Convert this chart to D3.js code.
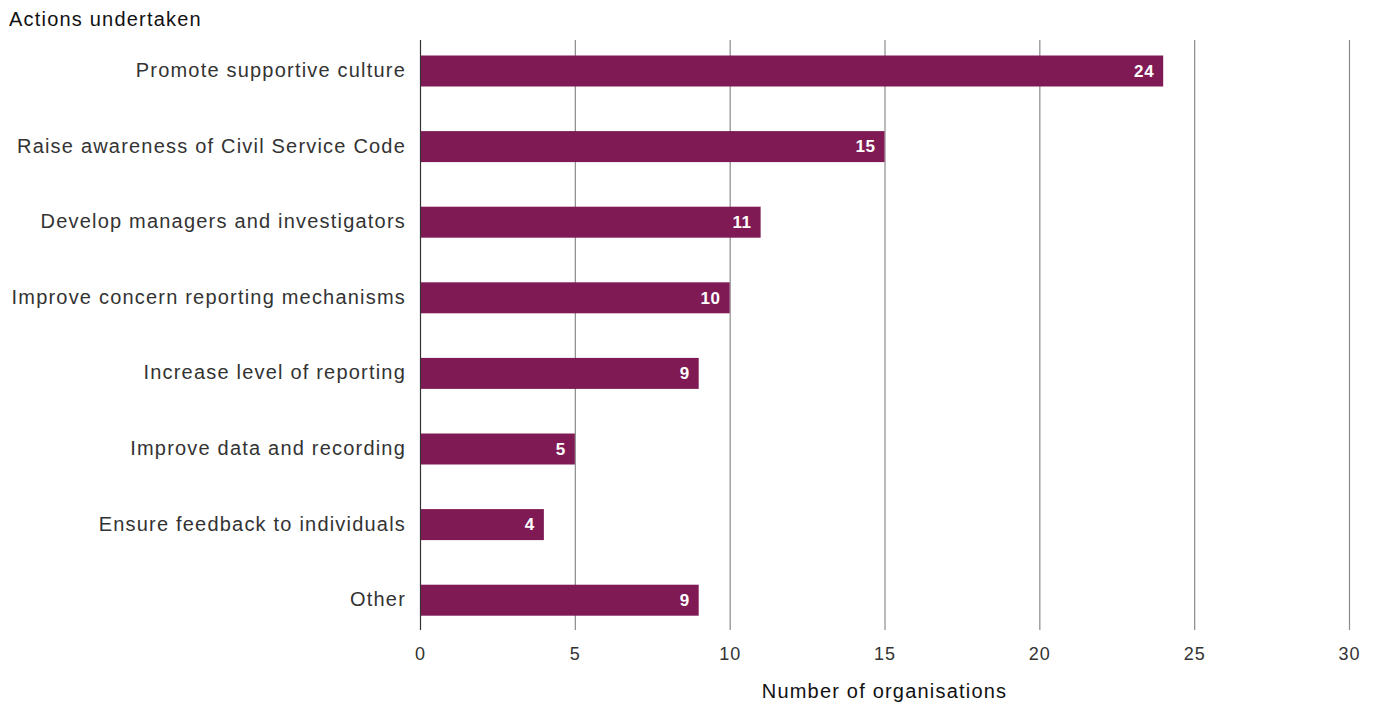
<!DOCTYPE html>
<html>
<head>
<meta charset="utf-8">
<script src="https://cdn.jsdelivr.net/npm/d3@7"></script>
<style>
  html, body { margin: 0; padding: 0; background: #fff; }
  svg { display: block; font-family: "Liberation Sans", "DejaVu Sans", sans-serif; }
</style>
</head>
<body>
<svg id="chart" width="1375" height="704"></svg>
<script>
// Actions undertaken by organisations
const categories = [
  "Promote supportive culture",
  "Raise awareness of Civil Service Code",
  "Develop managers and investigators",
  "Improve concern reporting mechanisms",
  "Increase level of reporting",
  "Improve data and recording",
  "Ensure feedback to individuals",
  "Other"
];
const counts = [24, 15, 11, 10, 9, 5, 4, 9];
const tickValues = [0, 5, 10, 15, 20, 25, 30];

const svg = d3.select("#chart");
const left = 420, right = 1349;
const gridTop = 40, gridBottom = 630;

const x = d3.scaleLinear().domain([0, 30]).range([left, right]);
const y = d3.scaleBand().domain(categories).range([33.2, 638]).paddingInner(0.59).paddingOuter(0.295);

// vertical gridlines
svg.append("g").selectAll("line")
  .data(tickValues)
  .join("line")
  .attr("x1", d => x(d) + 0.5).attr("x2", d => x(d) + 0.5)
  .attr("y1", gridTop).attr("y2", gridBottom)
  .attr("stroke", d => d === 0 ? "#333" : "#8a8a8a")
  .attr("stroke-width", 1.2);

// bars
svg.append("g").selectAll("rect")
  .data(counts)
  .join("rect")
  .attr("x", x(0) + 1)
  .attr("y", (d, i) => y(categories[i]))
  .attr("width", d => x(d) - x(0) - 1)
  .attr("height", y.bandwidth())
  .attr("fill", "#7f1a55");

// value labels inside bars
svg.append("g").selectAll("text")
  .data(counts)
  .join("text")
  .attr("x", d => x(d) - 9)
  .attr("y", (d, i) => y(categories[i]) + y.bandwidth() / 2)
  .attr("dy", "0.34em")
  .attr("text-anchor", "end")
  .attr("fill", "#fff")
  .attr("font-size", 17)
  .attr("font-weight", "bold")
  .attr("letter-spacing", 0.6)
  .text(d => d);

// category labels
svg.append("g").selectAll("text")
  .data(categories)
  .join("text")
  .attr("x", 406)
  .attr("y", d => y(d) + y.bandwidth() / 2)
  .attr("dy", "0.3em")
  .attr("text-anchor", "end")
  .attr("fill", "#333")
  .attr("font-size", 20)
  .attr("letter-spacing", 1.2)
  .text(d => d);

// x axis tick labels
const xAxis = d3.axisBottom(x).tickValues(tickValues).tickSize(0).tickPadding(0);
const gx = svg.append("g").attr("transform", `translate(0, 647)`).call(xAxis);
gx.select(".domain").remove();
gx.selectAll("text")
  .attr("font-size", 18)
  .attr("fill", "#333")
  .attr("letter-spacing", 1)
  .attr("font-family", "Liberation Sans, sans-serif");

// axis title
svg.append("text")
  .attr("x", (left + right) / 2)
  .attr("y", 698)
  .attr("text-anchor", "middle")
  .attr("font-size", 20)
  .attr("letter-spacing", 1.2)
  .attr("fill", "#111")
  .text("Number of organisations");

// chart title
svg.append("text")
  .attr("x", 9)
  .attr("y", 26)
  .attr("font-size", 20)
  .attr("letter-spacing", 1.2)
  .attr("fill", "#111")
  .text("Actions undertaken");
</script>
</body>
</html>
